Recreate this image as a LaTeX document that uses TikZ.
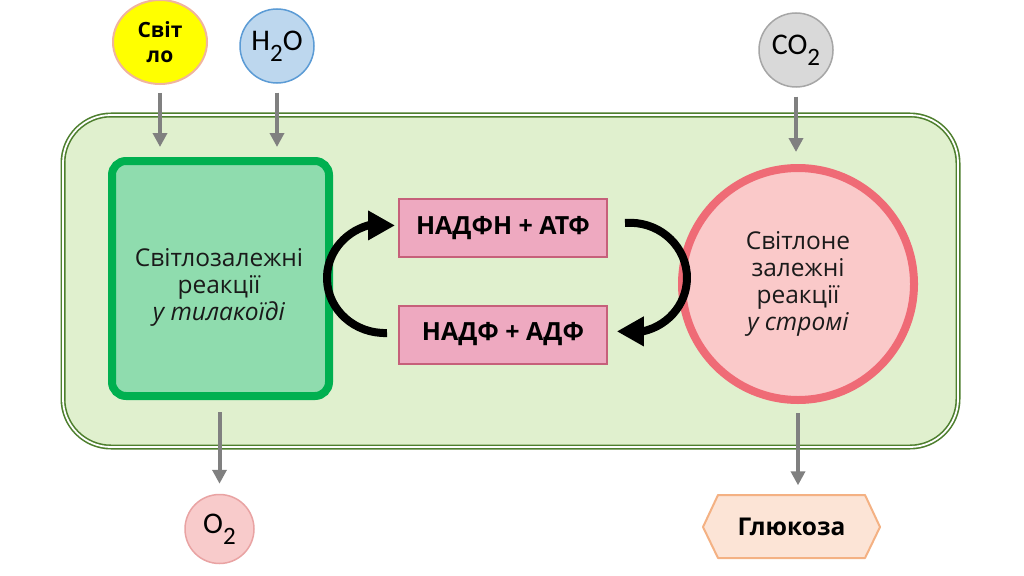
\documentclass[tikz,border=0pt]{standalone}
\usepackage{fontspec}
\setmainfont{Open Sans}
\newfontfamily\mol{Carlito}
\usetikzlibrary{arrows.meta,shapes.geometric}
\definecolor{cellfill}{HTML}{E0F0CE}
\definecolor{celldraw}{HTML}{4E7F2E}
\definecolor{lrfill}{HTML}{8FDCAE}
\definecolor{lrdraw}{HTML}{00B050}
\definecolor{redfill}{HTML}{FAC9C9}
\definecolor{reddraw}{HTML}{EF6B76}
\definecolor{pinkfill}{HTML}{EEA9C0}
\definecolor{pinkdraw}{HTML}{C6607A}
\definecolor{arrowgray}{HTML}{808080}
\definecolor{svfill}{HTML}{FFFF00}
\definecolor{svdraw}{HTML}{F0B49E}
\definecolor{hfill}{HTML}{BDD7EE}
\definecolor{hdraw}{HTML}{5B9BD5}
\definecolor{cfill}{HTML}{D9D9D9}
\definecolor{cdraw}{HTML}{A6A6A6}
\definecolor{ofill}{HTML}{F8CBCB}
\definecolor{odraw}{HTML}{E9A3A3}
\definecolor{gfill}{HTML}{FCE4D6}
\definecolor{gdraw}{HTML}{F4B183}
\definecolor{bodytextc}{HTML}{1A1A1A}
\begin{document}
\begin{tikzpicture}[x=1pt,y=-1pt,
  garrow/.style={draw=arrowgray, line width=4pt, -{Triangle[length=14pt,width=14pt]}},
  cyc/.style={draw=black, line width=8pt, -{Triangle[length=27pt,width=28pt]}},
  pinkbox/.style={rectangle, draw=pinkdraw, fill=pinkfill, line width=2pt,
    minimum width=208pt, minimum height=58pt, inner sep=0pt,
    font=\bfseries\fontsize{25}{28}\selectfont},
  bodytext/.style={align=center, text=bodytextc, inner sep=0pt,
    font=\fontsize{24.5}{27}\selectfont},
  molecule/.style={circle, minimum size=74pt, inner sep=0pt, line width=1.5pt,
    font=\mol\fontsize{30}{32}\selectfont}
]
\path[fill=white] (0,0) rectangle (1024,575);
\useasboundingbox (0,0) rectangle (1024,575);

% cell
\node[rectangle, rounded corners=48pt, fill=cellfill, draw=celldraw,
  line width=1.6pt, double=white, double distance=1.8pt,
  minimum width=895pt, minimum height=332pt] (cell) at (510.5,281) {};

% light-dependent box
\node[rectangle, rounded corners=14pt, fill=lrfill, draw=lrdraw, line width=8pt,
  minimum width=217pt, minimum height=235pt] (lr) at (220.5,278.5) {};
\node[bodytext] (lrtext) at (219,287) {Світлозалежні\\реакції\\\textit{у тилакоїді}};

% stroma circle
\node[circle, fill=redfill, draw=reddraw, line width=8pt, minimum size=232pt,
  inner sep=0pt, bodytext] (dr) at (798,284) {Світлоне\\залежні\\реакції\\\textit{у стромі}};

% pink boxes
\node[pinkbox] (nadph) at (503,228) {НАДФН + АТФ};
\node[pinkbox] (nadp) at (503,334.5) {НАДФ + АДФ};

% inputs
\node[ellipse, fill=svfill, draw=svdraw, line width=2pt, minimum width=94pt,
  minimum height=84pt, inner sep=0pt, align=center,
  font=\bfseries\fontsize{21}{24.5}\selectfont] (svit) at (160,42) {Світ\\ло};
\node[molecule, fill=hfill, draw=hdraw] (h2o) at (277,46)
  {H\raisebox{-0.75ex}{\fontsize{25}{25}\selectfont 2}O};
\node[molecule, fill=cfill, draw=cdraw] (co2) at (796,50)
  {CO\raisebox{-0.75ex}{\fontsize{25}{25}\selectfont 2}};

% outputs
\node[molecule, minimum size=69pt, fill=ofill, draw=odraw] (o2) at (219.5,529)
  {O\raisebox{-0.75ex}{\fontsize{25}{25}\selectfont 2}};
\fill[gfill] (703,527) -- (718,495) -- (865,495) -- (880,527) -- (865,558) -- (718,558) -- cycle;
\draw[gdraw, line width=2pt, line join=round] (703,527) -- (718,495) -- (865,495) -- (880,527) -- (865,558) -- (718,558) -- cycle;
\node[minimum width=177pt, minimum height=63pt, inner sep=0pt,
  font=\bfseries\fontsize{24.5}{28}\selectfont] (glu) at (791.5,527) {Глюкоза};

% grey arrows
\draw[garrow, shorten <=8pt, shorten >=10pt] (svit.south) -- (svit.south |- lr.north);
\draw[garrow, shorten <=9pt, shorten >=10pt] (h2o.south) -- (h2o.south |- lr.north);
\draw[garrow, shorten <=9pt, shorten >=12pt] (co2.south) -- (co2.south |- dr.north);
\draw[garrow, shorten <=12pt, shorten >=10pt] (o2.north |- lr.south) -- (o2.north);
\draw[garrow, shorten <=9pt, shorten >=10pt] (dr.south) -- (dr.south |- glu.north);

% cycle arrows
\coordinate (lstart) at (387,333);
\coordinate (rstart) at (625,223);
\draw[cyc] (lstart) arc[start angle=88, end angle=253, x radius=58, y radius=55] -- ++(27,0);
\draw[cyc] (rstart) arc[start angle=265, end angle=437, x radius=57, y radius=55] -- ++(-26,0);
\end{tikzpicture}
\end{document}
